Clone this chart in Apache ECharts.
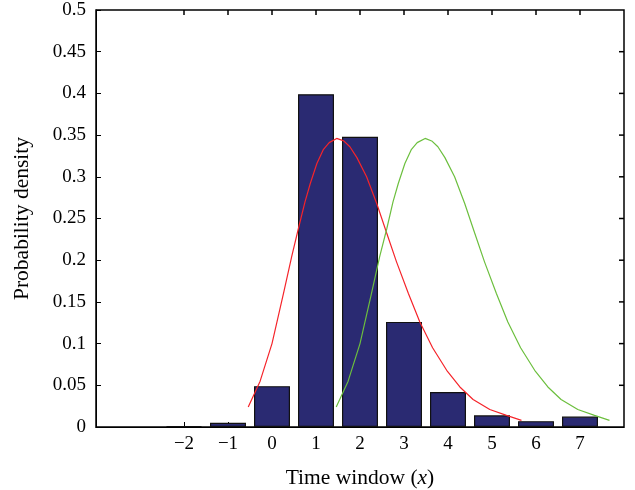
<!DOCTYPE html>
<html>
<head>
<meta charset="utf-8">
<script src="https://cdn.jsdelivr.net/npm/echarts@6/dist/echarts.min.js"></script>
<style>html,body{margin:0;padding:0;background:#fff}#c{width:635px;height:490px}</style>
</head>
<body>
<div id="c"></div>
<script>
var categories = [-2, -1, 0, 1, 2, 3, 4, 5, 6, 7];
var barValues = [0.0012, 0.005, 0.049, 0.399, 0.348, 0.126, 0.042, 0.014, 0.007, 0.0125];
var redX = [-0.54, -0.27, 0.0, 0.26, 0.45, 0.6, 0.75, 0.87, 1.02, 1.17, 1.3, 1.47, 1.63, 1.77, 1.93, 2.15, 2.38, 2.61, 2.83, 3.1, 3.36, 3.65, 3.97, 4.27, 4.57, 4.95, 5.33, 5.67];
var redY = [0.024, 0.055, 0.100, 0.160, 0.205, 0.238, 0.270, 0.292, 0.316, 0.333, 0.341, 0.346, 0.343, 0.336, 0.323, 0.300, 0.268, 0.232, 0.198, 0.160, 0.126, 0.095, 0.068, 0.048, 0.033, 0.021, 0.014, 0.008];
var greenX = [1.46, 1.73, 2.0, 2.26, 2.45, 2.61, 2.75, 2.87, 3.02, 3.17, 3.3, 3.48, 3.63, 3.77, 3.93, 4.15, 4.38, 4.61, 4.83, 5.1, 5.36, 5.65, 5.97, 6.27, 6.57, 6.95, 7.33, 7.67];
var greenY = [0.024, 0.055, 0.100, 0.160, 0.205, 0.238, 0.270, 0.292, 0.316, 0.333, 0.341, 0.346, 0.343, 0.336, 0.323, 0.300, 0.268, 0.232, 0.198, 0.160, 0.126, 0.095, 0.068, 0.048, 0.033, 0.021, 0.014, 0.008];
var xTickValues = [-2, -1, 0, 1, 2, 3, 4, 5, 6, 7];
var yTickValues = [0.05, 0.1, 0.15, 0.2, 0.25, 0.3, 0.35, 0.4, 0.45];
var xRange = [-4, 8];
var yRange = [0, 0.5];

function pairs(xs, ys) { return xs.map(function (x, i) { return [x, ys[i]]; }); }
function fmtX(v) { return v < 0 ? '\u2212' + Math.abs(v) : String(v); }
function fmtY(v) { return String(+v.toFixed(2)); }

var FONT = '"Liberation Serif", "DejaVu Serif", serif';

var chart = echarts.init(document.getElementById('c'), null, { renderer: 'canvas' });
chart.setOption({
  animation: false,
  backgroundColor: '#fff',
  grid: [{ left: 96, right: 11, top: 10, bottom: 63, outerBoundsMode: 'none', show: true, borderColor: '#000', borderWidth: 1.5 }],
  xAxis: [{
    type: 'value', min: xRange[0], max: xRange[1], interval: 1, position: 'bottom',
    axisLine: { show: true, onZero: false, lineStyle: { color: '#000', width: 1 } },
    axisTick: { show: true, inside: true, length: 5, customValues: xTickValues, lineStyle: { color: '#000', width: 1 } },
    axisLabel: { show: true, customValues: xTickValues, formatter: fmtX, color: '#000', fontFamily: FONT, fontSize: 19, margin: 8 },
    splitLine: { show: false },
    name: '{n|Time window (}{i|x}{n|)}',
    nameLocation: 'middle', nameGap: 40,
    nameTextStyle: { rich: {
      n: { fontFamily: FONT, fontSize: 21.5, color: '#000' },
      i: { fontFamily: FONT, fontSize: 21.5, color: '#000', fontStyle: 'italic' }
    } }
  }],
  yAxis: [{
    type: 'value', min: yRange[0], max: yRange[1], interval: 0.05, position: 'left',
    axisLine: { show: true, onZero: false, lineStyle: { color: '#000', width: 1 } },
    axisTick: { show: true, inside: true, length: 5, lineStyle: { color: '#000', width: 1 } },
    axisLabel: { formatter: fmtY, color: '#000', fontFamily: FONT, fontSize: 19, margin: 10 },
    splitLine: { show: false },
    name: 'Probability density', nameLocation: 'middle', nameGap: 63, nameRotate: 90,
    nameTextStyle: { fontFamily: FONT, fontSize: 21.5, color: '#000' }
  }],
  series: [{
    type: 'bar',
    data: pairs(categories, barValues),
    barWidth: 36,
    itemStyle: { color: '#2A2A72', borderColor: '#111', borderWidth: 1.2 }
  }, {
    type: 'line',
    data: pairs(redX, redY), showSymbol: false, symbol: 'none', smooth: false,
    lineStyle: { color: '#F5242A', width: 1.2 }
  }, {
    type: 'line',
    data: pairs(greenX, greenY), showSymbol: false, symbol: 'none', smooth: false,
    lineStyle: { color: '#6CBF3E', width: 1.2 }
  }]
});

// Mirrored inside ticks on the top and right edges, placed through the chart's own scales.
function px(x, y) { return chart.convertToPixel({ gridIndex: 0 }, [x, y]); }
var stroke = { stroke: '#000', lineWidth: 1.5 };
var els = [];
xTickValues.forEach(function (v) {
  var p = px(v, yRange[1]);
  if (p) els.push({ type: 'line', shape: { x1: p[0], y1: p[1], x2: p[0], y2: p[1] + 5 }, style: stroke, z: 100 });
});
yTickValues.forEach(function (v) {
  var p = px(xRange[1], v);
  if (p) els.push({ type: 'line', shape: { x1: p[0], y1: p[1], x2: p[0] - 5, y2: p[1] }, style: stroke, z: 100 });
});
chart.setOption({ graphic: { elements: els } });
</script>
</body>
</html>
